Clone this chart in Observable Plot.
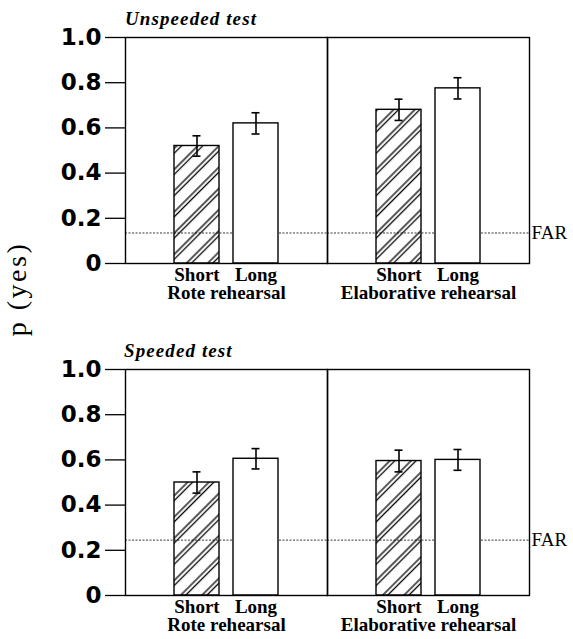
<!DOCTYPE html>
<html><head><meta charset="utf-8">
<script src="https://cdn.jsdelivr.net/npm/d3@7"></script>
<script src="https://cdn.jsdelivr.net/npm/@observablehq/plot@0.6"></script>
<style>
body{margin:0;background:#fff;}
#wrap{position:relative;width:573px;height:639px;overflow:hidden;background:#fff;}
.panel{position:absolute;left:0;z-index:1;}
.title{position:absolute;z-index:2;font-family:"Liberation Serif","Times New Roman","DejaVu Serif",serif;font-weight:bold;font-style:italic;font-size:19px;letter-spacing:1.1px;white-space:nowrap;line-height:1;}
#ylab{position:absolute;z-index:2;font-family:"Liberation Serif","Times New Roman","DejaVu Serif",serif;font-size:28px;letter-spacing:2.5px;white-space:nowrap;transform-origin:center;line-height:1;}
g[aria-label="x-axis tick label"] text, g[aria-label="fx-axis tick label"] text{font-family:"Liberation Serif","Times New Roman","DejaVu Serif",serif;font-weight:bold;}
g[aria-label="y-axis tick label"] text{font-family:"DejaVu Sans",sans-serif;font-weight:bold;}
g[aria-label="text"] text{font-family:"Liberation Serif","Times New Roman","DejaVu Serif",serif;}
</style></head><body>
<svg width="0" height="0" style="position:absolute"><defs>
<pattern id="hatch" patternUnits="userSpaceOnUse" width="15" height="15" patternTransform="rotate(45)">
<line x1="3" y1="0" x2="3" y2="15" stroke="#000" stroke-width="1.3"/>
<line x1="6.5" y1="0" x2="6.5" y2="15" stroke="#000" stroke-width="1.3"/>
</pattern></defs></svg>
<div id="wrap">
  <div class="title" style="left:125px;top:9px;">Unspeeded test</div>
  <div class="title" style="left:124px;top:341px;">Speeded test</div>
  <div id="ylab">p (yes)</div>
  <div class="panel" id="p1" style="top:0px;"></div>
  <div class="panel" id="p2" style="top:305px;"></div>
</div>
<script>
const groups = ["Rote rehearsal", "Elaborative rehearsal"];
const lengths = ["Short", "Long"];
const unspeededMeans = [0.52, 0.62, 0.68, 0.775];
const unspeededErr = [0.045, 0.047, 0.047, 0.047];
const speededMeans = [0.50, 0.605, 0.595, 0.60];
const speededErr = [0.047, 0.045, 0.048, 0.046];
const farValues = [0.135, 0.245];
const yTicks = [0, 0.2, 0.4, 0.6, 0.8, 1.0];

function rows(means, errs) {
  const out = [];
  groups.forEach((g, i) => lengths.forEach((l, j) => {
    const k = i * 2 + j;
    out.push({group: g, len: l, mean: means[k], err: errs[k]});
  }));
  return out;
}

const serif = "Liberation Serif, DejaVu Serif, serif";
const sans = "DejaVu Sans";

function panel(means, errs, far, height, marginTop, marginBottom) {
  const data = rows(means, errs);
  return Plot.plot({
    width: 573,
    height,
    marginLeft: 125,
    marginRight: 44,
    marginTop,
    marginBottom,
    style: {background: "transparent", color: "black", overflow: "visible"},
    fx: {domain: groups, padding: 0, label: null},
    x: {domain: lengths, paddingInner: 0.24, paddingOuter: 0.83, label: null},
    y: {domain: [0, 1], label: null},
    marks: [
      Plot.ruleY([far], {stroke: "#222", strokeWidth: 0.9, strokeDasharray: "2,1.5"}),
      Plot.barY(data.filter(d => d.len === "Short"), {fx: "group", x: "len", y: "mean", fill: "url(#hatch)", stroke: "black", strokeWidth: 1.4}),
      Plot.barY(data.filter(d => d.len === "Long"), {fx: "group", x: "len", y: "mean", fill: "white", stroke: "black", strokeWidth: 1.4}),
      Plot.ruleX(data, {fx: "group", x: "len", y1: d => d.mean - d.err, y2: d => d.mean + d.err, stroke: "black", strokeWidth: 1.6}),
      Plot.tickY(data, {fx: "group", x: "len", y: d => d.mean + d.err, insetLeft: 18.5, insetRight: 18.5, stroke: "black", strokeWidth: 1.6}),
      Plot.tickY(data, {fx: "group", x: "len", y: d => d.mean - d.err, insetLeft: 18.5, insetRight: 18.5, stroke: "black", strokeWidth: 1.6}),
      Plot.frame({stroke: "black", strokeWidth: 1.4}),
      Plot.text([{group: groups[1], v: far}], {fx: "group", y: "v", frameAnchor: "right", text: () => "FAR", textAnchor: "start", dx: 2, fontSize: 19, fontFamily: serif}),
      Plot.axisY({ticks: yTicks, tickFormat: d => d === 0 ? "0" : d.toFixed(1), tickSize: 20, tickPadding: 4, fontSize: 23, fontWeight: "bold", fontFamily: sans, strokeWidth: 1.3}),
      Plot.axisX({anchor: "bottom", tickSize: 0, tickPadding: 4, fontSize: 19, fontWeight: "bold", fontFamily: serif, label: null}),
      Plot.axisFx({anchor: "bottom", tickSize: 0, tickPadding: 22, fontSize: 19, fontWeight: "bold", fontFamily: serif, label: null})
    ]
  });
}

document.getElementById("p1").appendChild(panel(unspeededMeans, unspeededErr, farValues[0], 305, 37, 42));
document.getElementById("p2").appendChild(panel(speededMeans, speededErr, farValues[1], 334, 64, 44));

const yl = document.getElementById("ylab");
const w = yl.offsetWidth, h = yl.offsetHeight;
yl.style.left = (17 - w / 2) + "px";
yl.style.top = (289 - h / 2) + "px";
yl.style.transform = "rotate(-90deg)";
</script>
</body></html>
